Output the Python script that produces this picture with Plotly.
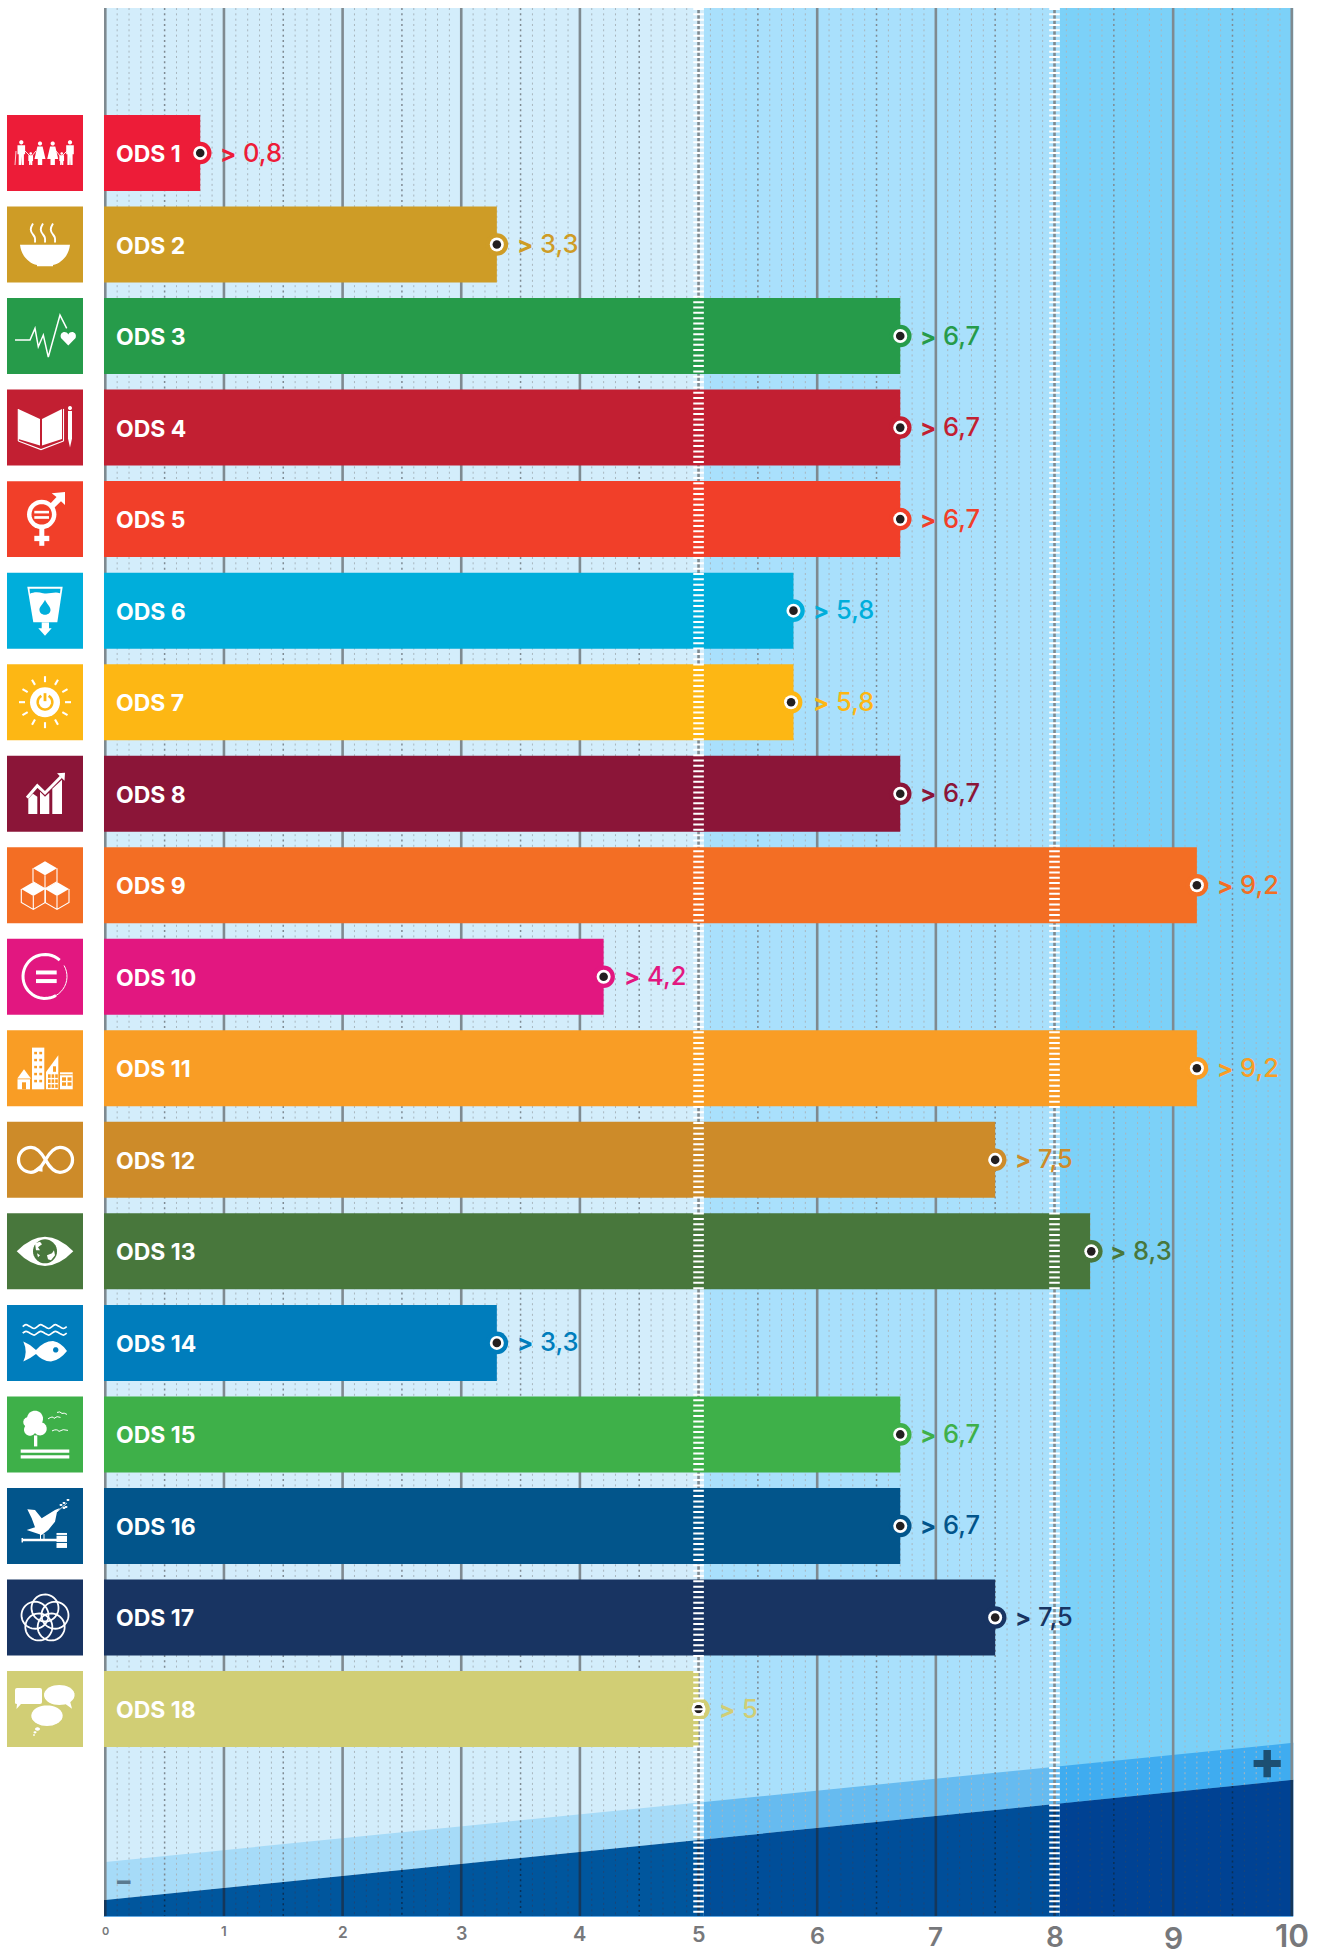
import math, re
import plotly.graph_objects as go

W, H = 1328, 1955
categories = [f"ODS {i}" for i in range(1, 19)]
values = [0.8, 3.3, 6.7, 6.7, 6.7, 5.8, 5.8, 6.7, 9.2, 4.2, 9.2, 7.5, 8.3, 3.3, 6.7, 6.7, 7.5, 5]
marker_values = [0.8, 3.3, 6.7, 6.7, 6.7, 5.8, 5.78, 6.7, 9.2, 4.2, 9.2, 7.5, 8.31, 3.3, 6.7, 6.7, 7.5, 5]
colors = ["#ED1C38", "#CE9C26", "#269B4A", "#C21F32", "#F13F29", "#00AEDB", "#FDB714", "#8B1538", "#F36E24",
          "#E21780", "#F99D25", "#CD8B29", "#48773C", "#007DBC", "#3EB049", "#02558B", "#183462", "#D1CE75"]
tick_labels = ["0", "1", "2", "3", "4", "5", "6", "7", "8", "9", "10"]
tick_sizes = [11, 13.5, 15.5, 18, 20, 21.5, 23.5, 26, 28, 30, 31.5]

X0, UNIT = 105.3, 118.65      # pixel of value 0, pixels per unit
ROW0, PITCH, BAR_H = 153.0, 91.53, 76.0
TOP, BOTTOM = 8.0, 1916.0
BAND_EDGES = [0, 5.045, 8.045, 10]
BG = ["#D3EDFB", "#A9E0FC", "#7CD1F8"]
MID = ["#A6DBF8", "#66BBF0", "#3FACF0"]
DARK = ["#00569D", "#004E99", "#004293"]
FONT = "Inter"
GREY = "#77787B"


def band_top(v):
    return 1862 - 11.9 * v


def band_dark(v):
    return 1900 - 12.0 * v


def py(p):
    return 1 - p / H


shapes = []


def line_v(v, y0, y1, color, width, dash="solid", layer="below"):
    shapes.append(dict(type="line", xref="x", yref="paper", x0=v, x1=v, y0=py(y0), y1=py(y1), layer=layer,
                       line=dict(color=color, width=width, dash=dash)))


# background sections and the rising bands
for i in range(3):
    a, b = BAND_EDGES[i], BAND_EDGES[i + 1]
    shapes.append(dict(type="rect", xref="x", yref="paper", x0=a, x1=b + (0.012 if i == 2 else 0), y0=py(TOP), y1=py(BOTTOM),
                       layer="below", line_width=0, fillcolor=BG[i]))
    for top_fn, bot_fn, col in ((band_top, band_dark, MID[i]), (band_dark, lambda v: BOTTOM, DARK[i])):
        e = b + (0.012 if i == 2 else 0)
        path = f"M {a},{py(top_fn(a))} L {e},{py(top_fn(e))} L {e},{py(bot_fn(e))} L {a},{py(bot_fn(a))} Z"
        shapes.append(dict(type="path", xref="x", yref="paper", path=path, layer="below", line_width=0, fillcolor=col))

# grid
for k in range(101):
    v = k / 10
    if k % 10 == 0:
        continue
    strong = k % 5 == 0
    col = "#7F8A92" if strong else "#A8B6BE"
    line_v(v, TOP, band_dark(v), col, 1.5 if strong else 1, "2px,3.33px")
    line_v(v, band_dark(v), BOTTOM, "#0A2F55" if strong else "#1B4679", 1.5 if strong else 1, "2px,3.33px")
for k in range(11):
    line_v(k, TOP, band_dark(k), "#7F8A90", 2.6)
    line_v(k, band_dark(k), BOTTOM, "#15375A", 2.6)
shapes.append(dict(type="line", xref="x", yref="paper", x0=-0.012, x1=10.012, y0=py(BOTTOM + .5), y1=py(BOTTOM + .5),
                   layer="below", line=dict(color="#62A9E2", width=1)))

# ladder marks at 5 and 8
for v in (5, 8):
    line_v(v, TOP, BOTTOM, "#FFFFFF", 10.6, "2px,3.33px", layer="above")


# ---- icons, drawn in a 76 x 76 tile ----
def ipath(ox, oy, d):
    def rep(m):
        return f"{(ox + float(m.group(1))) / W:.5f},{py(oy + float(m.group(2))):.5f}"
    return re.sub(r"(-?[\d.]+),(-?[\d.]+)", rep, d)


class Tile:
    def __init__(self, i):
        self.ox, self.oy, self.c = 7.0, 115 + i * PITCH, colors[i]
        self.fill("M 0,0 L 76,0 L 76,76 L 0,76 Z", self.c)

    def fill(self, d, col="#FFFFFF"):
        shapes.append(dict(type="path", xref="paper", yref="paper", path=ipath(self.ox, self.oy, d), layer="above",
                           fillcolor=col, line_width=0))

    def stroke(self, d, w=1.5, col="#FFFFFF"):
        shapes.append(dict(type="path", xref="paper", yref="paper", path=ipath(self.ox, self.oy, d), layer="above",
                           fillcolor="rgba(0,0,0,0)", line=dict(color=col, width=w)))

    def rect(self, x0, y0, x1, y1, col="#FFFFFF"):
        self.fill(f"M {x0},{y0} L {x1},{y0} L {x1},{y1} L {x0},{y1} Z", col)

    def poly(self, pts, col="#FFFFFF"):
        self.fill("M " + " L ".join(f"{x},{y}" for x, y in pts) + " Z", col)

    def line(self, pts, w=1.5, col="#FFFFFF"):
        self.stroke("M " + " L ".join(f"{x},{y}" for x, y in pts), w, col)

    def ell(self, cx, cy, rx, ry=None, col="#FFFFFF"):
        ry = rx if ry is None else ry
        self.poly([(round(cx + rx * math.cos(t * math.pi / 18), 2), round(cy + ry * math.sin(t * math.pi / 18), 2))
                   for t in range(36)], col)

    def arc(self, cx, cy, r, a0, a1, w, col="#FFFFFF"):
        n = max(4, int(abs(a1 - a0) / 8))
        self.line([(round(cx + r * math.cos(math.radians(a0 + (a1 - a0) * t / n)), 2),
                    round(cy + r * math.sin(math.radians(a0 + (a1 - a0) * t / n)), 2)) for t in range(n + 1)], w, col)


def person(t, x, head, feet, dress=False, s=1.0):
    t.ell(x, head, 2.1 * s)
    top = head + 3 * s
    if dress:
        t.poly([(x - 2.6 * s, top), (x + 2.6 * s, top), (x + 5.5 * s, feet - 6 * s), (x + 2.2 * s, feet - 6 * s), (x + 2.2 * s, feet),
                (x - 2.2 * s, feet), (x - 2.2 * s, feet - 6 * s), (x - 5.5 * s, feet - 6 * s)])
    else:
        t.poly([(x - 3.8 * s, top), (x + 3.8 * s, top), (x + 3.8 * s, top + 9 * s), (x + 2.6 * s, top + 9 * s), (x + 2.6 * s, feet),
                (x + .3 * s, feet), (x, top + 11 * s), (x - .3 * s, feet), (x - 2.6 * s, feet), (x - 2.6 * s, top + 9 * s), (x - 3.8 * s, top + 9 * s)])


def ic1(t):
    person(t, 14.3, 27.3, 50)
    person(t, 63, 27.3, 50)
    person(t, 33, 28.5, 50, True)
    person(t, 45.7, 28.5, 50, True)
    person(t, 23.7, 38.5, 50, s=.62)
    person(t, 54.7, 38.5, 50, s=.62)
    t.line([(9, 36), (8, 50)], .8)
    t.line([(18, 36), (24, 42), (29, 36)], .9)
    t.line([(49, 36), (54, 42), (60, 36)], .9)


def ic2(t):
    t.fill("M 13,38.3 L 63,38.3 C 62,49 54,57 46,58.5 L 46,59.7 L 30,59.7 L 30,58.5 C 22,57 14,49 13,38.3 Z")
    for x in (26, 36, 46):
        t.stroke(f"M {x},17 C {x-3},22 {x-3},24 {x},28 C {x+3},31 {x+2},33 {x+2},36", 1.9)


def ic3(t):
    t.line([(8, 42), (23, 42), (28, 30.3), (31.3, 48.7), (36.3, 37), (41.3, 59), (53, 17), (59.7, 30.3)], 1.5)
    t.fill("M 61.3,47.5 L 54,40 C 52,34 59,32 61.3,36.5 C 63.5,32 70.5,34 68.6,40 Z")


def ic4(t):
    t.poly([(11.3, 19.3), (33, 29.3), (33, 56), (11.3, 49.3)])
    t.poly([(35, 29.3), (55, 19.3), (55, 49.3), (35, 56)])
    t.line([(11.3, 51.5), (34, 60), (56.5, 51.5)], 1.1)
    t.line([(11.3, 19.3), (11.3, 51.5)], 1.1)
    t.line([(56.5, 19.3), (56.5, 51.5)], 1.1)
    t.ell(63, 18.5, 2)
    t.poly([(61, 21.5), (65, 21.5), (65, 49), (63, 58), (61, 49)])


def ic5(t):
    t.ell(34.7, 33.3, 14.7, col="#FFFFFF")
    t.ell(34.7, 33.3, 10.2, col=t.c)
    t.rect(27.3, 29.7, 42, 32.3)
    t.rect(27.3, 35, 42, 37.7)
    t.rect(32.3, 47, 37.3, 64.7)
    t.rect(27.3, 54.7, 42.3, 60)
    t.poly([(44.7, 12), (58, 11), (58, 24), (54, 20), (46, 28), (42, 24), (49.5, 16)])


def ic6(t):
    t.poly([(20.3, 14), (55.7, 14), (50.3, 49.7), (26.3, 49.7)])
    t.fill(f"M 22.5,16 L 53.5,16 L 53,20.5 C 47,18.5 42,22 36,20.5 C 31,19 26,19.5 23,21 Z", t.c)
    t.fill("M 38,27 C 39.5,31 44,34 43.5,37.5 C 43,43.5 33,43.5 32.5,37.5 C 32,34 36.5,31 38,27 Z", t.c)
    t.rect(34.7, 49.7, 42, 56.3)
    t.poly([(31.3, 55.7), (44.7, 55.7), (38, 63)])


def ic7(t):
    t.ell(38, 38, 15)
    t.arc(38, 38, 7.3, -60, 240, 2.6, t.c)
    t.line([(38, 29), (38, 37)], 2.8, t.c)
    for k in range(12):
        a = math.radians(k * 30)
        t.line([(round(38 + 20 * math.cos(a), 2), round(38 + 20 * math.sin(a), 2)),
                (round(38 + 26 * math.cos(a), 2), round(38 + 26 * math.sin(a), 2))], 2.1)


def ic8(t):
    t.poly([(21.3, 43), (26, 38), (30.3, 41), (30.3, 58.3), (21.3, 58.3)])
    t.poly([(33, 36), (38, 41), (42.3, 37), (42.3, 58.3), (33, 58.3)])
    t.poly([(45.3, 33), (55, 24), (55, 58.3), (45.3, 58.3)])
    t.line([(20, 42), (30.3, 30), (38, 37.3), (54, 21)], 3)
    t.poly([(50, 17.5), (58, 17), (57.5, 25)])


def cube(t, x, y):
    hw, ri, sd = 12, 7, 13.5
    t.poly([(x, y), (x + hw, y + ri), (x, y + 2 * ri), (x - hw, y + ri)])
    t.stroke(f"M {x-hw},{y+ri} L {x-hw},{y+ri+sd} L {x},{y+2*ri+sd} L {x+hw},{y+ri+sd} L {x+hw},{y+ri} "
             f"M {x},{y+2*ri} L {x},{y+2*ri+sd}", 1.1)


def ic9(t):
    cube(t, 38, 14)
    cube(t, 26.3, 34.7)
    cube(t, 50, 34.7)


def ic10(t):
    t.arc(38, 37.7, 22, 60, 312, 3)
    t.arc(38, 37.7, 22, -30, 60, 1)
    t.rect(29, 31.7, 49.7, 35.7)
    t.rect(29, 40.3, 49.7, 44.3)


def ic11(t):
    t.poly([(10.3, 48.3), (17, 39), (24, 48.3)])
    t.rect(10.5, 49, 23, 59)
    t.rect(15, 52, 19, 59, t.c)
    t.rect(25, 17.3, 37.3, 59)
    for r in range(5):
        for c in range(2):
            t.rect(27.2 + c * 5.1, 21.5 + r * 7, 30 + c * 5.1, 24 + r * 7, t.c)
    t.poly([(39, 41.7), (51.3, 25), (51.3, 59), (39, 59)])
    for r in range(3):
        for c in range(3):
            t.rect(41 + c * 3.6, 44 + r * 5, 43.6 + c * 3.6, 47.6 + r * 5, t.c)
    t.rect(46, 36, 49, 41.5, t.c)
    t.rect(53, 42, 65.7, 59)
    t.rect(53, 44, 65.7, 45, t.c)
    for r in range(2):
        for c in range(2):
            t.rect(55 + c * 5.5, 47 + r * 5, 59 + c * 5.5, 50.5 + r * 5, t.c)


def ic12(t):
    t.stroke("M 32,47 C 29,49.5 27,50.5 24,50.5 C 17,50.5 11.5,45 11.5,38 C 11.5,31 17,25.5 24,25.5 C 30,25.5 34,30 38.5,38 "
             "C 43,46 47,50.5 53,50.5 C 60,50.5 65.5,45 65.5,38 C 65.5,31 60,25.5 53,25.5 C 47,25.5 43,30 38.5,38 L 34,45", 3.3)
    t.poly([(35.5, 41.5), (35.5, 50), (26.5, 48.5)])


def ic13(t):
    t.fill("M 9.7,38 Q 38,8.8 66.3,38 Q 38,67.2 9.7,38 Z")
    t.ell(38, 38, 12, col=t.c)
    t.fill("M 28,30 L 33,28.5 L 35,31 L 31,34 L 33,37 L 29,37 Z")
    t.fill("M 40,42 L 45,40 L 47,37 L 48,42 L 44,47 L 41,46 Z")
    t.fill("M 30,40 L 33,42 L 31,44 Z")


def wave(y, x0=15.7, x1=59.7, n=3):
    step = (x1 - x0) / n
    d = f"M {x0},{y}"
    for k in range(n):
        a = x0 + k * step
        d += f" C {a+step/4},{y-3} {a+step/4},{y-2} {a+step/2},{y} C {a+3*step/4},{y+2} {a+3*step/4},{y+3} {a+step},{y}"
    return d


def ic14(t):
    t.stroke(wave(21.7), 1.7)
    t.stroke(wave(28.3), 1.7)
    t.fill("M 16.3,36.7 Q 24,40 29,45 Q 37,36 46,36 Q 55,38 60,46 Q 53,55 44,56.7 Q 35,56 29,49 Q 24,53 16.3,56.7 Q 21,47 16.3,36.7 Z")
    t.ell(48.7, 45, 2.7, col=t.c)


def ic15(t):
    t.ell(28, 22.3, 8)
    t.ell(21.3, 25.7, 5)
    t.ell(33, 32.3, 6.7)
    t.ell(23, 33.3, 6)
    t.ell(28, 30, 6)
    t.rect(27, 39, 30.3, 50)
    t.rect(13.7, 53, 62.3, 56.3)
    t.rect(13.7, 58.7, 62.3, 62)
    t.stroke("M 41,22.5 Q 46,19 47,22 Q 50,19 53.5,21", 1)
    t.stroke("M 50,16 Q 53,14.5 55,17 Q 57,16 60,18", 1)
    t.stroke("M 45,34.5 Q 50,32 52,35 Q 56,32 61,34", 1)


def ic16(t):
    t.poly([(20.3, 21.3), (28, 22), (34.7, 30.3), (48, 22), (53, 20), (50, 24), (48, 33.7), (41.3, 42), (34.7, 47),
            (19.7, 42), (28, 39.3), (24.7, 30.3)])
    t.line([(33.5, 46), (33.5, 52)], 1)
    t.line([(37, 46), (37, 52)], 1)
    t.rect(15, 50.7, 50, 53.3)
    t.rect(14.5, 50, 16, 54.5)
    t.rect(49.5, 45, 60, 47)
    t.rect(49.5, 47.8, 60, 54)
    t.rect(49.5, 55, 60, 60)
    t.line([(50, 24), (60, 15)], .8)
    for x, y in ((54, 17), (57, 15), (59, 19), (61, 12), (57, 20)):
        t.ell(x, y, 1.5, 1)


def ic17(t):
    for k in range(5):
        a = math.radians(-90 + 72 * k)
        t.arc(round(38 + 10.5 * math.cos(a), 2), round(39 + 10.5 * math.sin(a), 2), 13.5, 0, 360, 1.8)


def ic18(t):
    t.fill("M 10,17 Q 8,17 8,19 L 8,32 Q 8,33 10,33 L 9.5,38 L 14,33 L 33,33 Q 35,33 35,31 L 35,19 Q 35,17 33,17 Z")
    t.ell(52.3, 24, 15.3, 10)
    t.poly([(57, 32), (65, 37.7), (63, 30)])
    t.ell(40, 44.7, 15.7, 10.3)
    t.ell(30.5, 58, 2.5, 1.7)
    t.ell(28, 61.3, 1.5, 1.1)
    t.ell(27, 64, 1, .8)


icon_fns = [ic1, ic2, ic3, ic4, ic5, ic6, ic7, ic8, ic9, ic10, ic11, ic12, ic13, ic14, ic15, ic16, ic17, ic18]
for i, fn in enumerate(icon_fns):
    fn(Tile(i))

# ---- traces ----
BASE = -0.011
fig = go.Figure()
fig.add_trace(go.Bar(orientation="h", y=categories, x=[v - BASE for v in values], base=BASE,
                     marker=dict(color=colors, line_width=0), hoverinfo="skip"))
fig.add_trace(go.Scatter(x=marker_values, y=categories, mode="markers", hoverinfo="skip",
                         marker=dict(size=22.6, color=colors, line_width=0)))
fig.add_trace(go.Scatter(x=marker_values, y=categories, mode="markers", hoverinfo="skip",
                         marker=dict(size=14, color="#FFFFFF", line_width=0)))
fig.add_trace(go.Scatter(x=marker_values, y=categories, mode="markers", hoverinfo="skip",
                         marker=dict(size=8.6, color="#231F20", line_width=0)))

ann = []
for cat, v, c in zip(categories, values, colors):
    ann.append(dict(x=0, y=cat, xref="x", yref="y", xanchor="left", yanchor="middle", xshift=9, yshift=-1, text=cat,
                    showarrow=False, font=dict(family=FONT, size=23, color="#FFFFFF", weight=700)))
    label = str(v).replace(".", ",")
    ann.append(dict(x=v, y=cat, xref="x", yref="y", xanchor="left", yanchor="middle", xshift=18, yshift=1,
                    text=f'<span style="font-size:24px;font-weight:700">&gt;</span> {label}',
                    showarrow=False, font=dict(family=FONT, size=25.5, color=c, weight=500)))
for lab, size in zip(tick_labels, tick_sizes):
    centre = 1926.5 + 0.37 * size if lab != "10" else 1935.6
    ann.append(dict(x=int(lab), y=py(centre), xref="x", yref="paper", xanchor="center", yanchor="middle",
                    text=lab, showarrow=False, font=dict(family=FONT, size=size, color=GREY, weight=600)))
ann.append(dict(x=0.12, y=py(1880), xref="x", yref="paper", xanchor="left", yanchor="middle", xshift=-5, text="–", showarrow=False,
                font=dict(family=FONT, size=27, color="#5A7A90", weight=800)))
ann.append(dict(x=9.79, y=py(1759.5), xref="x", yref="paper", xanchor="center", yanchor="middle", text="+", showarrow=False,
                font=dict(family=FONT, size=53, color="#1C4F72", weight=800)))

fig.update_layout(
    width=W, height=H, margin=dict(l=0, r=0, t=0, b=0), showlegend=False,
    paper_bgcolor="#FFFFFF", plot_bgcolor="rgba(0,0,0,0)", bargap=1 - BAR_H / PITCH,
    shapes=shapes, annotations=ann,
    xaxis=dict(range=[-X0 / UNIT, (W - X0) / UNIT], domain=[0, 1], visible=False, fixedrange=True),
    yaxis=dict(type="category", categoryorder="array", categoryarray=categories,
               range=[(H - ROW0) / PITCH, -ROW0 / PITCH], domain=[0, 1], visible=False, fixedrange=True),
)
fig.write_html("out.html", config={"displayModeBar": False},
               post_script="document.body.style.margin='0';document.body.style.overflow='hidden';")
